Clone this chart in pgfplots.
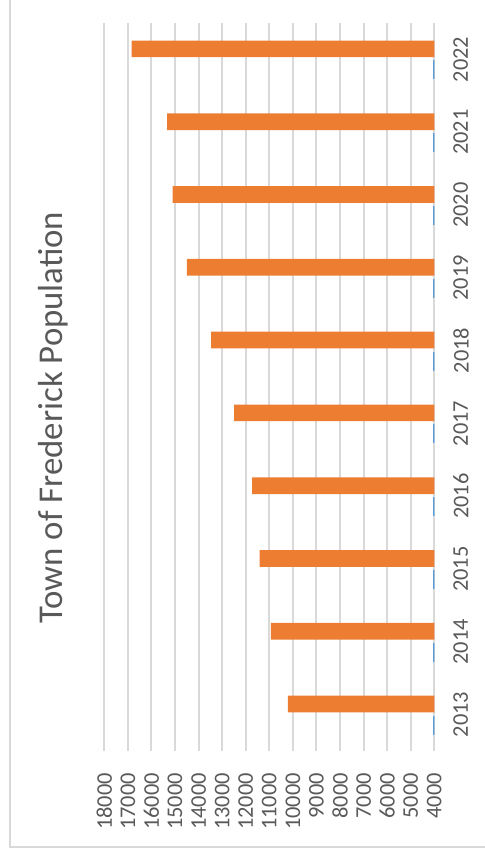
\documentclass[border=0pt]{standalone}
\usepackage{fontspec}
\setmainfont{Carlito}
\usepackage{pgfplots}
\pgfplotsset{compat=1.18}

\definecolor{barorange}{RGB}{237,125,49}
\definecolor{barblue}{RGB}{91,155,213}
\definecolor{textgray}{RGB}{89,89,89}
\definecolor{gridgray}{RGB}{217,217,217}

\begin{document}
\begin{tikzpicture}
\begin{axis}[
    at={(0,0)}, anchor=south west,
    scale only axis,
    width=165pt, height=364pt,
    xbar,
    bar width=8.35pt,
    x dir=reverse,
    xmin=4000, xmax=18000,
    ymin=2012.5, ymax=2022.5,
    xtick distance=1000,
    ytick={2013,2014,...,2022},
    scaled x ticks=false,
    /pgf/number format/1000 sep={},
    /pgf/number format/assume math mode=true,
    yticklabel pos=right,
    axis line style={draw=none},
    major tick length=0pt,
    xmajorgrids,
    grid style={gridgray, line width=1pt},
    ticklabel style={font=\fontsize{11.2}{13}\selectfont, text=textgray},
    xticklabel style={rotate=90, anchor=east},
    yticklabel style={rotate=90, anchor=north},
    xticklabel shift=7.5pt,
    yticklabel shift=6pt,
]
% population
\addplot[fill=barorange, draw=none, bar shift=5.25pt] coordinates {
    (10210,2013) (10930,2014) (11410,2015) (11730,2016) (12490,2017)
    (13470,2018) (14500,2019) (15100,2020) (15330,2021) (16840,2022)
};
% second series lies below the axis minimum: only a sliver shows
\addplot[fill=barblue, draw=barblue, line width=1.2pt, bar shift=-5.25pt,
    restrict x to domain*=3999:18000] coordinates {
    (2013,2013) (2014,2014) (2015,2015) (2016,2016) (2017,2017)
    (2018,2018) (2019,2019) (2020,2020) (2021,2021) (2022,2022)
};
\end{axis}
\node[rotate=90, text=textgray, font=\fontsize{17.4}{20}\selectfont]
    at (-25.65pt,166.75pt) {Town of Frederick Population};
\draw[gridgray, line width=0.9pt] (-47.15pt,380pt) -- (-47.15pt,-48pt) -- (195pt,-48pt);
\pgfresetboundingbox
\useasboundingbox (-52.15pt,-51.5pt) rectangle (190.35pt,375.5pt);
\end{tikzpicture}
\end{document}
